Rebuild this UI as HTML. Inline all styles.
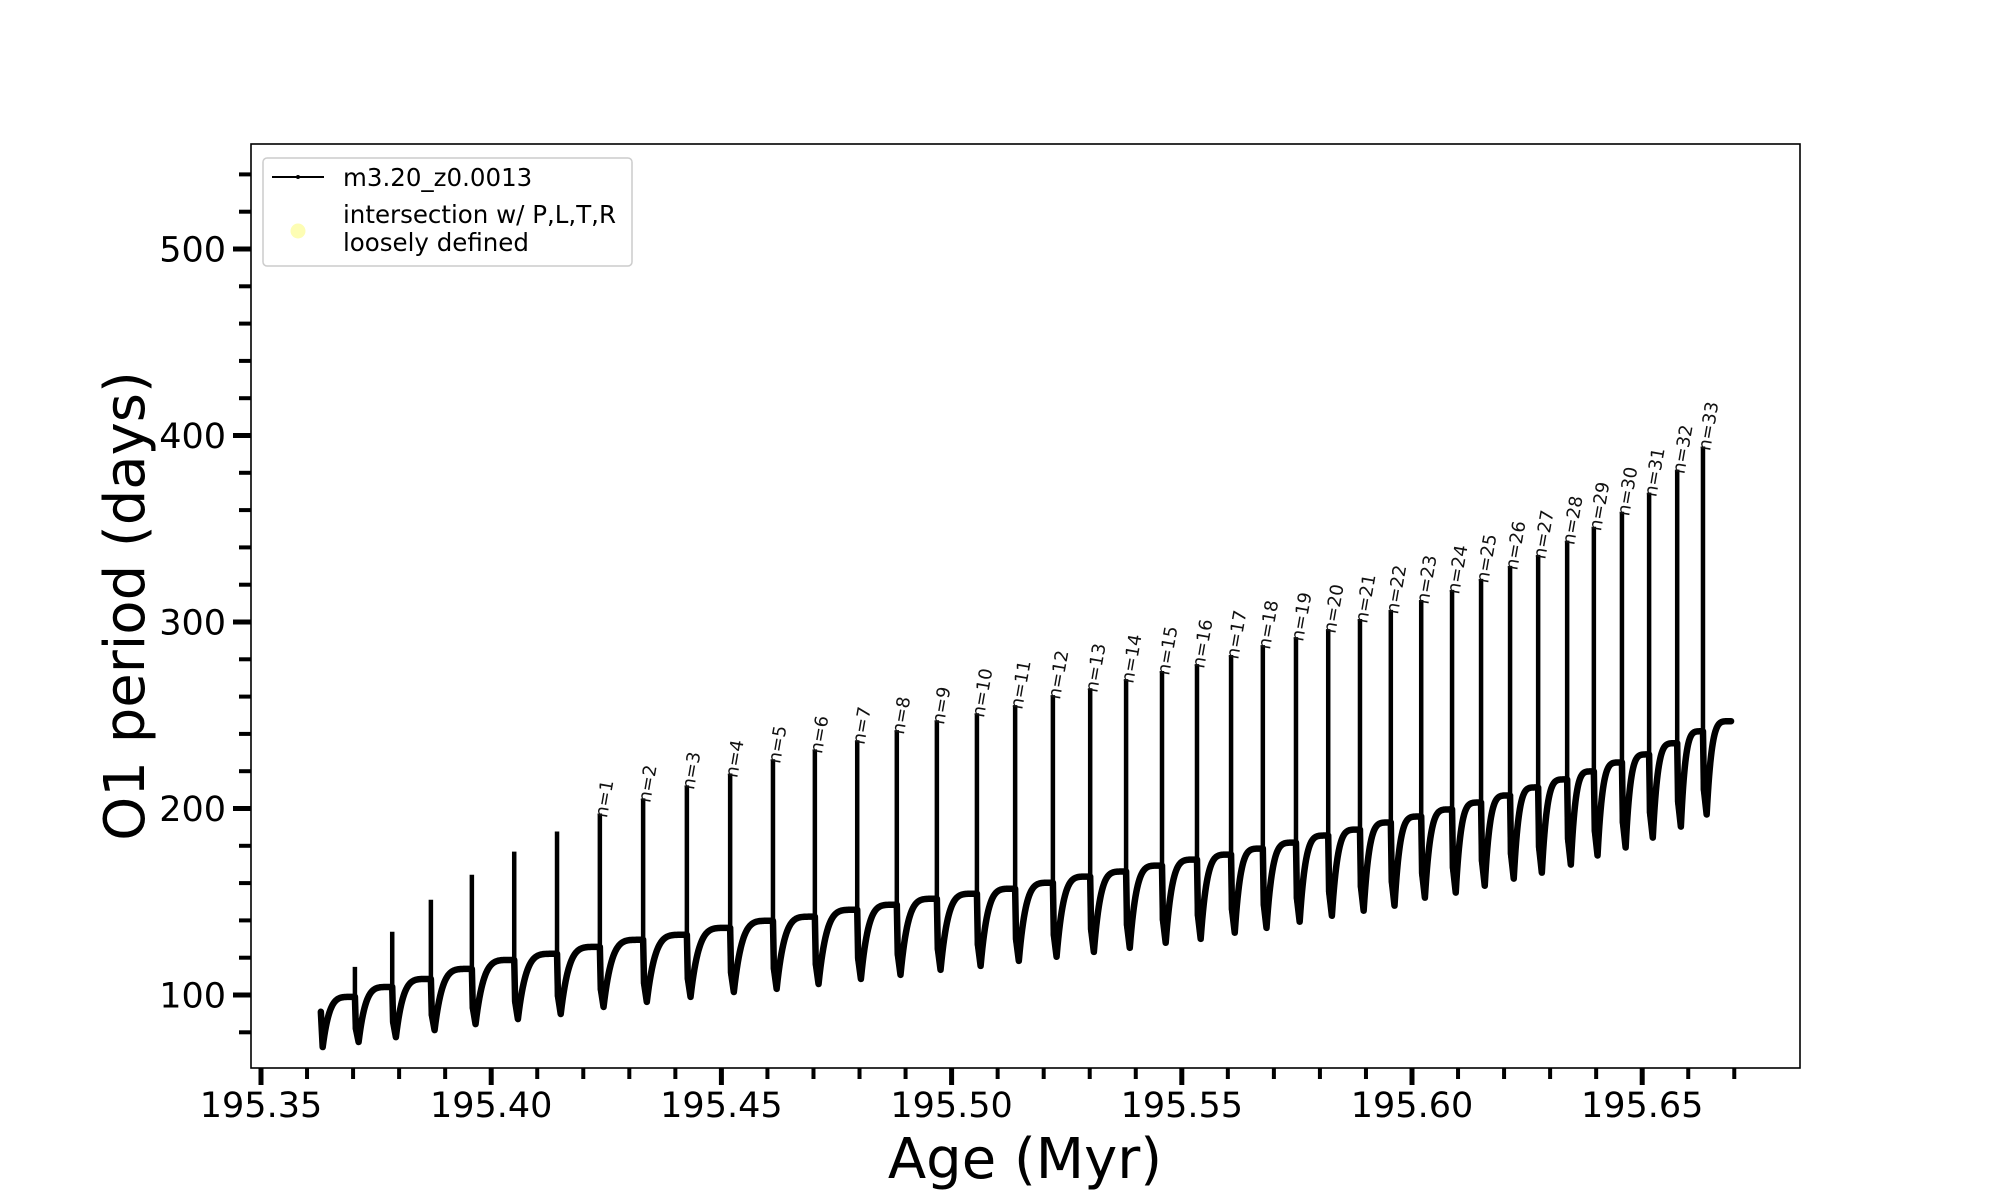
<!DOCTYPE html>
<html>
<head>
<meta charset="utf-8">
<style>
  html,body{margin:0;padding:0;background:#fff;}
  svg{display:block;}
  text{font-family:"DejaVu Sans","Liberation Sans",sans-serif;}
</style>
</head>
<body>
<svg id="chart" width="2000" height="1200" viewBox="0 0 2000 1200" xmlns="http://www.w3.org/2000/svg">
  <rect x="0" y="0" width="2000" height="1200" fill="#fff"/>
  <g id="marks"></g>
  <rect x="251" y="144" width="1549" height="924" fill="none" stroke="#000" stroke-width="1.6"/>
  <g id="axes"></g>
  <text x="1025" y="1178" font-size="56" text-anchor="middle">Age (Myr)</text>
  <text transform="translate(144,606) rotate(-90)" font-size="56" text-anchor="middle">O1 period (days)</text>
  <g>
    <rect x="263" y="158" width="369" height="108" rx="4" fill="#fff" fill-opacity="0.85" stroke="#cccccc" stroke-width="1.5"/>
    <line x1="272" y1="177" x2="324" y2="177" stroke="#000" stroke-width="2"/>
    <circle cx="298" cy="177" r="2" fill="#000"/>
    <text x="343" y="186" font-size="24.5">m3.20_z0.0013</text>
    <circle cx="298" cy="231" r="7.5" fill="#fdfdb4"/>
    <text x="343" y="223" font-size="24.5">intersection w/ P,L,T,R</text>
    <text x="343" y="251" font-size="24.5">loosely defined</text>
  </g>
</svg>
<script>
// ---- data ----
const startAge = 195.3630;
const startValues = [91.0, 72.1];
const endAge = 195.6693;
const spikeAges = [195.3704,195.3785,195.3869,195.3958,195.4050,195.4143,
  195.4236,195.4330,195.4425,195.4519,195.4612,195.4703,195.4795,195.4881,195.4968,
  195.5055,195.5138,195.5220,195.5301,195.5379,195.5457,195.5533,195.5607,195.5676,
  195.5748,195.5818,195.5887,195.5954,195.6020,195.6087,195.6150,195.6213,195.6274,
  195.6337,195.6395,195.6456,195.6515,195.6576,195.6632];
const spikeTops = [115.1,133.9,151.1,164.5,176.9,187.7,
  197.3,205.4,212.4,218.8,226.4,231.7,236.6,242.0,247.3,251.1,255.4,260.8,264.5,269.4,
  273.7,277.4,282.3,287.6,291.9,296.2,301.6,306.5,311.8,317.2,323.1,330.1,336.0,343.6,
  351.1,359.1,369.4,381.7,394.1];
const plateaus = [99.0,104.3,108.6,114.0,118.8,122.1,125.8,129.6,132.3,136.0,139.8,
  142.0,145.7,148.4,151.6,154.3,157.0,160.2,163.5,166.2,169.4,172.6,175.3,178.5,
  181.7,185.5,188.7,192.5,195.7,199.5,203.2,207.0,211.3,215.6,219.9,224.7,229.0,235.0,241.4,246.8];
const dips = [74.8,77.4,81.2,84.4,87.1,89.8,93.6,96.3,99.0,101.6,103.3,105.9,108.6,
  110.8,113.5,115.6,118.3,120.5,123.1,125.3,128.0,130.1,133.4,136.0,139.3,142.5,145.2,
  147.9,152.2,154.9,158.6,162.4,165.6,169.9,174.8,179.1,184.4,190.3,196.8];
const labelStart = 6; // first labelled spike index (n=1)
const xTicks = [195.35,195.40,195.45,195.50,195.55,195.60,195.65];
const xTickLabels = ["195.35","195.40","195.45","195.50","195.55","195.60","195.65"];
const yTicks = [100,200,300,400,500];
const yTickLabels = ["100","200","300","400","500"];

// ---- axis functions ----
function X(a){ return 261 + (a - 195.35) * 4604; }
function Y(v){ return 249 + (500 - v) * 1.865; }
const NS = "http://www.w3.org/2000/svg";
const marks = document.getElementById('marks');
const axes = document.getElementById('axes');

// ---- curve ----
function shape(u){ return 1 - Math.pow(1 - u, 5); }
let d = `M${X(startAge)},${Y(startValues[0])} L${X(startAge+0.0004)},${Y(startValues[1])}`;
function rise(t0, v0, t1, v1){
  let s = '';
  for (let i = 1; i <= 40; i++){
    const u = i / 40;
    s += ` L${X(t0 + (t1 - t0) * u).toFixed(2)},${Y(v0 + (v1 - v0) * shape(u)).toFixed(2)}`;
  }
  return s;
}
d += rise(startAge+0.0004, startValues[1], spikeAges[0], plateaus[0]);
let spikes = '';
for (let k = 0; k < spikeAges.length; k++){
  const t = spikeAges[k];
  const dipT = t + 0.0008;
  const nextT = k + 1 < spikeAges.length ? spikeAges[k+1] : endAge;
  spikes += `M${X(t)},${Y(plateaus[k])} L${X(t)},${Y(spikeTops[k])} L${X(t)},${Y(dips[k] + 0.3*(plateaus[k]-dips[k]))} L${X(dipT)},${Y(dips[k])} `;
  d += ` L${X(t)},${Y(plateaus[k])} L${X(t+0.0002)},${Y(dips[k] + 0.3*(plateaus[k]-dips[k]))} L${X(dipT)},${Y(dips[k])}`;
  d += rise(dipT, dips[k], nextT, plateaus[k+1]);
}
const curve = document.createElementNS(NS, 'path');
curve.setAttribute('d', d);
curve.setAttribute('fill', 'none');
curve.setAttribute('stroke', '#000');
curve.setAttribute('stroke-width', '6.5');
curve.setAttribute('stroke-linejoin', 'round');
curve.setAttribute('stroke-linecap', 'round');


marks.appendChild(curve);
const sp = document.createElementNS(NS, 'path');
sp.setAttribute('d', spikes);
sp.setAttribute('fill', 'none');
sp.setAttribute('stroke', '#000');
sp.setAttribute('stroke-width', '4.5');
sp.setAttribute('stroke-linecap', 'round');


marks.appendChild(sp);

// ---- n labels ----
for (let k = labelStart; k < spikeAges.length; k++){
  const tx = X(spikeAges[k]) + 7, ty = Y(spikeTops[k]) + 5;
  const lb = document.createElementNS(NS, 'text');
  lb.setAttribute('transform', `translate(${tx},${ty}) rotate(-80)`);
  lb.setAttribute('font-size', '18');
  lb.setAttribute('fill', '#111');
  lb.textContent = 'n=' + (k - labelStart + 1);
  
  
  marks.appendChild(lb);
}

// ---- x axis ticks ----
for (let m = 0; m <= 32; m++){
  const a = 195.35 + m * 0.01;
  const major = m % 5 === 0;
  const x = X(a);
  const tk = document.createElementNS(NS, 'line');
  tk.setAttribute('x1', x); tk.setAttribute('x2', x);
  tk.setAttribute('y1', 1068); tk.setAttribute('y2', major ? 1085 : 1079);
  tk.setAttribute('stroke', '#000');
  tk.setAttribute('stroke-width', major ? 5 : 4);
  
  
  axes.appendChild(tk);
}
xTicks.forEach((a, i) => {
  const t = document.createElementNS(NS, 'text');
  t.setAttribute('x', X(a)); t.setAttribute('y', 1117);
  t.setAttribute('font-size', '35');
  t.setAttribute('text-anchor', 'middle');
  t.textContent = xTickLabels[i];
  
  
  axes.appendChild(t);
});
// ---- y axis ticks ----
for (let v = 80; v <= 540; v += 20){
  const major = v % 100 === 0;
  const y = Y(v);
  const tk = document.createElementNS(NS, 'line');
  tk.setAttribute('x1', major ? 233 : 239); tk.setAttribute('x2', 251);
  tk.setAttribute('y1', y); tk.setAttribute('y2', y);
  tk.setAttribute('stroke', '#000');
  tk.setAttribute('stroke-width', major ? 5 : 4);
  
  
  axes.appendChild(tk);
}
yTicks.forEach((v, i) => {
  const t = document.createElementNS(NS, 'text');
  t.setAttribute('x', 226); t.setAttribute('y', Y(v) + 12.5);
  t.setAttribute('font-size', '35');
  t.setAttribute('text-anchor', 'end');
  t.textContent = yTickLabels[i];
  
  
  axes.appendChild(t);
});
</script>
</body>
</html>
